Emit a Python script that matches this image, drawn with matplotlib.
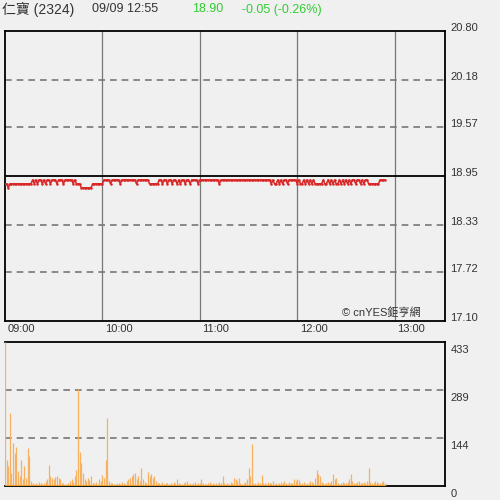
import numpy as np
import matplotlib
matplotlib.use("Agg")
import matplotlib.pyplot as plt
import matplotlib.transforms as mtransforms

plt.rcParams['font.family'] = ['Liberation Sans', 'Noto Sans CJK TC', 'DejaVu Sans']

# header
stock_name = "仁寶 (2324)"
stamp = "09/09 12:55"
last_price = "18.90"
change_txt = "-0.05 (-0.26%)"
watermark = "© cnYES鉅亨網"

# price axis
prev_close = 18.95
price_ticks = [17.10, 17.72, 18.33, 18.95, 19.57, 20.18, 20.80]
price_tick_labels = ["17.10", "17.72", "18.33", "18.95", "19.57", "20.18", "20.80"]

# time axis (minutes after 09:00)
hour_ticks = [0, 60, 120, 180, 240]
hour_labels = ["09:00", "10:00", "11:00", "12:00", "13:00"]
session_len = 271

# volume axis
vol_ticks = [0, 144, 289, 433]
vol_tick_labels = ["0", "144", "289", "433"]

A, B, C = 18.90, 18.85, 18.80
prices = [
    B, B, C, B, B, B, B, B, B, B,
    B, B, B, B, B, B, B, A, B, A,
    B, A, A, B, A, B, A, A, B, A,
    A, A, B, A, A, A, B, A, A, A,
    A, A, B, A, B, B, B, C, C, C,
    C, C, C, C, B, B, B, B, B, B,
    B, A, A, A, A, B, A, A, A, A,
    A, B, A, A, A, A, A, A, A, A,
    A, B, A, A, A, A, A, A, A, B,
    B, B, B, B, B, A, A, B, A, A,
    B, A, A, B, A, A, B, A, B, A,
    A, B, A, A, B, A, A, A, A, B,
    A, A, A, A, A, A, A, A, A, A,
    A, A, B, A, A, A, A, A, A, A,
    A, A, A, A, A, A, A, A, A, A,
    A, A, A, A, A, A, A, A, A, A,
    A, A, A, A, B, A, B, B, A, B,
    A, B, A, A, B, A, A, A, A, A,
    B, A, B, B, A, B, A, B, A, B,
    A, B, B, B, B, B, A, B, B, A,
    B, A, B, A, B, B, A, B, A, B,
    A, B, A, B, A, A, B, A, A, B,
    A, B, A, A, B, B, B, B, B, B,
    B, A, A, A, A,
]

volumes = [
    433, 78, 60, 219, 40, 129, 100, 117, 45, 30,
    78, 20, 60, 25, 114, 90, 15, 8, 5, 10,
    6, 12, 8, 5, 10, 15, 20, 63, 30, 25,
    20, 28, 30, 25, 22, 10, 8, 6, 5, 10,
    15, 20, 12, 30, 48, 291, 102, 69, 40, 20,
    15, 25, 18, 30, 10, 8, 12, 5, 20, 15,
    33, 25, 78, 204, 15, 10, 8, 5, 6, 10,
    8, 5, 12, 10, 6, 15, 20, 25, 30, 35,
    40, 22, 30, 15, 54, 20, 12, 8, 42, 30,
    35, 25, 30, 15, 10, 8, 6, 12, 5, 10,
    8, 6, 10, 5, 12, 8, 20, 10, 6, 5,
    8, 12, 15, 6, 10, 5, 8, 12, 6, 10,
    8, 20, 10, 6, 5, 8, 12, 6, 10, 5,
    8, 6, 12, 10, 30, 8, 5, 10, 6, 12,
    8, 25, 20, 15, 25, 10, 6, 8, 12, 20,
    54, 30, 125, 10, 8, 6, 12, 10, 33, 8,
    10, 6, 12, 8, 10, 15, 5, 8, 6, 10,
    12, 8, 15, 10, 6, 12, 8, 10, 20, 15,
    22, 18, 10, 8, 12, 6, 10, 8, 15, 12,
    10, 25, 48, 35, 30, 12, 8, 6, 10, 12,
    8, 15, 35, 20, 25, 10, 6, 8, 12, 10,
    8, 12, 20, 36, 15, 10, 8, 12, 15, 10,
    8, 12, 10, 15, 54, 12, 10, 8, 15, 12,
    10, 8, 12, 15, 10,
]

minutes = np.arange(len(prices))
bg = '#f0f0f0'
txt = '#333333'
green = '#33cc33'

fig = plt.figure(figsize=(5, 5), dpi=100, facecolor=bg)
ax = fig.add_axes([0.01, 0.358, 0.88, 0.58], facecolor=bg)
axv = fig.add_axes([0.01, 0.028, 0.88, 0.288], facecolor=bg)

#header texts
fig.text(0.004, 0.981, stock_name, fontsize=10, color=txt, va='center')
fig.text(0.184, 0.981, stamp, fontsize=9, color=txt, va='center')
fig.text(0.384, 0.981, last_price, fontsize=9, color=green, va='center')
fig.text(0.484, 0.981, change_txt, fontsize=9, color=green, va='center')

#price panel
for x in hour_ticks[1:]:
    ax.axvline(x, color='#777777', linewidth=0.9, zorder=1)
for y in price_ticks[1:-1]:
    if y == prev_close:
        ax.axhline(y, color='black', linewidth=1.3, zorder=1)
    else:
        ax.axhline(y, color='#777777', linewidth=1.2, linestyle=(0, (4, 3)), zorder=1)
ax.plot(minutes, prices, color='#d92626', linewidth=1.1, marker='o', markersize=1.8,
        markeredgewidth=0, zorder=3)
ax.set_xlim(0, session_len)
ax.set_ylim(price_ticks[0], price_ticks[-1])
ax.set_xticks([])
ax.set_yticks([])
for s in ax.spines.values():
    s.set_linewidth(1.3)
    s.set_color('black')

down2 = mtransforms.ScaledTranslation(0, -2 / 100, fig.dpi_scale_trans)
tr_r = mtransforms.blended_transform_factory(ax.transAxes, ax.transData)
for v, lab in zip(price_ticks, price_tick_labels):
    ax.text(1.012, v, lab, transform=tr_r + down2, fontsize=8, color=txt, va='bottom', ha='left')
tr_b = mtransforms.blended_transform_factory(ax.transData, ax.transAxes)
for v, lab in zip(hour_ticks, hour_labels):
    ax.text(v + 1.5, -0.01, lab, transform=tr_b, fontsize=8, color=txt, va='top', ha='left')
ax.text(0.945, 0.012, watermark, transform=ax.transAxes, fontsize=8, color=txt,
        ha='right', va='bottom')

#volume panel
for y in vol_ticks[1:-1]:
    axv.axhline(y, color='#777777', linewidth=1.2, linestyle=(0, (4, 3)), zorder=1)
axv.vlines(minutes, 0, volumes, color='#f7b060', linewidth=0.9, zorder=3)
axv.hlines(0, minutes[0], minutes[-1], color='#f0a030', linewidth=1.5, zorder=4)
axv.set_xlim(0, session_len)
axv.set_ylim(vol_ticks[0], vol_ticks[-1])
axv.set_xticks([])
axv.set_yticks([])
for s in axv.spines.values():
    s.set_linewidth(1.3)
    s.set_color('black')
axv.spines['left'].set_visible(False)
down3 = mtransforms.ScaledTranslation(0, -3 / 100, fig.dpi_scale_trans)
tr_v = mtransforms.blended_transform_factory(axv.transAxes, axv.transData)
for v, lab in zip(vol_ticks, vol_tick_labels):
    axv.text(1.012, v, lab, transform=tr_v + down3, fontsize=8, color=txt, va='top', ha='left')

fig.savefig('out.png', dpi=100, facecolor=bg)
